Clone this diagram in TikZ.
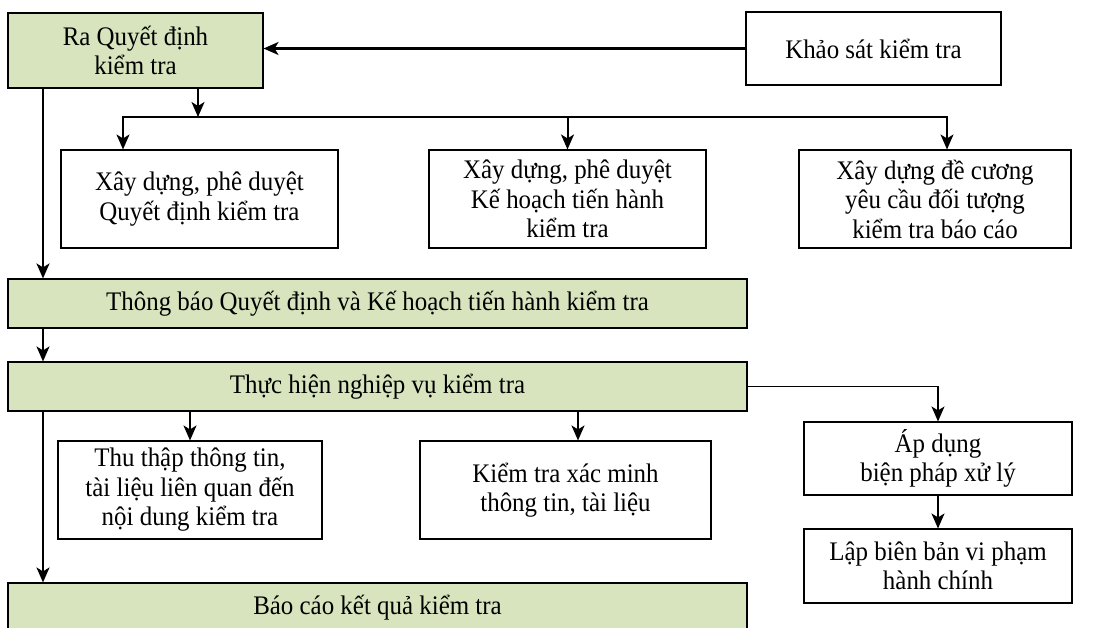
\documentclass[tikz,border=0pt]{standalone}
\usepackage{fontspec}
\setmainfont[FakeStretch=0.93]{Liberation Serif}
\usetikzlibrary{arrows.meta}
\definecolor{boxgreen}{HTML}{D7E4BD}
\begin{document}
\begin{tikzpicture}[x=1pt,y=-1pt,
  box/.style={draw=black,line width=1.1pt,fill=white,align=center,inner sep=0pt,
    font=\fontsize{26.8}{29.5}\selectfont},
  gbox/.style={box,fill=boxgreen},
  tip/.tip={Stealth[length=15pt,width=13pt,inset=4pt]},
  arr/.style={line width=2pt,-tip},
  trunk/.style={arr,line width=2.2pt},
  thin/.style={line width=1.3pt}]
\useasboundingbox (0,0) rectangle (1102,628);
\clip (0,0) rectangle (1102,628);
% nodes
\node[gbox,minimum width=255pt,minimum height=75pt] (ra) at (135.5,50.5) {Ra Quyết định\\kiểm tra};
\node[box,minimum width=255pt,minimum height=73pt] (ks) at (873.5,48.5) {Khảo sát kiểm tra};
\node[box,minimum width=277pt,minimum height=98pt] (b1) at (199.5,199) {Xây dựng, phê duyệt\\Quyết định kiểm tra};
\node[box,minimum width=277pt,minimum height=98pt] (b2) at (567.5,199) {Xây dựng, phê duyệt\\Kế hoạch tiến hành\\kiểm tra};
\node[box,minimum width=272pt,minimum height=98pt] (b3) at (935,199) {Xây dựng đề cương\\yêu cầu đối tượng\\kiểm tra báo cáo};
\node[gbox,minimum width=739pt,minimum height=49pt] (tb) at (377.5,303.5) {Thông báo Quyết định và Kế hoạch tiến hành kiểm tra};
\node[gbox,minimum width=739pt,minimum height=49pt] (th) at (377.5,386.5) {Thực hiện nghiệp vụ kiểm tra};
\node[box,minimum width=264pt,minimum height=98pt] (tt) at (190,490) {Thu thập thông tin,\\tài liệu liên quan đến\\nội dung kiểm tra};
\node[box,minimum width=291pt,minimum height=98pt] (kx) at (565.5,490) {Kiểm tra xác minh\\thông tin, tài liệu};
\node[box,minimum width=268pt,minimum height=73pt] (ad) at (938,458.5) {Áp dụng\\biện pháp xử lý};
\node[box,minimum width=268pt,minimum height=74pt] (lb) at (938,566) {Lập biên bản vi phạm\\hành chính};
\node[gbox,minimum width=739pt,minimum height=50pt] (bc) at (377.5,608) {Báo cáo kết quả kiểm tra};
% helper coordinates
\coordinate (L) at (43,0);
\coordinate (bD) at (198,117);
\coordinate (bL) at (123,117);
\coordinate (bR) at (947,117);
\coordinate (cT) at (190,0);
\coordinate (cK) at (578,0);
% connectors
\draw[trunk] (ks.west) -- (ks.west -| ra.east);
\draw[arr] (ra.south -| bD) -- (bD);
\draw[thin,tip-tip] (b1.north -| bL) -- (bL) -- (bR) -- (b3.north -| bR);
\draw[arr] (b2.north |- bL) -- (b2.north);
\draw[trunk] (ra.south -| L) -- (tb.north -| L);
\draw[arr] (tb.south -| L) -- (th.north -| L);
\draw[trunk] (th.south -| L) -- (bc.north -| L);
\draw[arr] (th.south -| cT) -- (tt.north -| cT);
\draw[arr] (th.south -| cK) -- (kx.north -| cK);
\draw[thin,-tip] (th.east) -| (ad.north);
\draw[arr] (ad.south) -- (lb.north);
\end{tikzpicture}
\end{document}
